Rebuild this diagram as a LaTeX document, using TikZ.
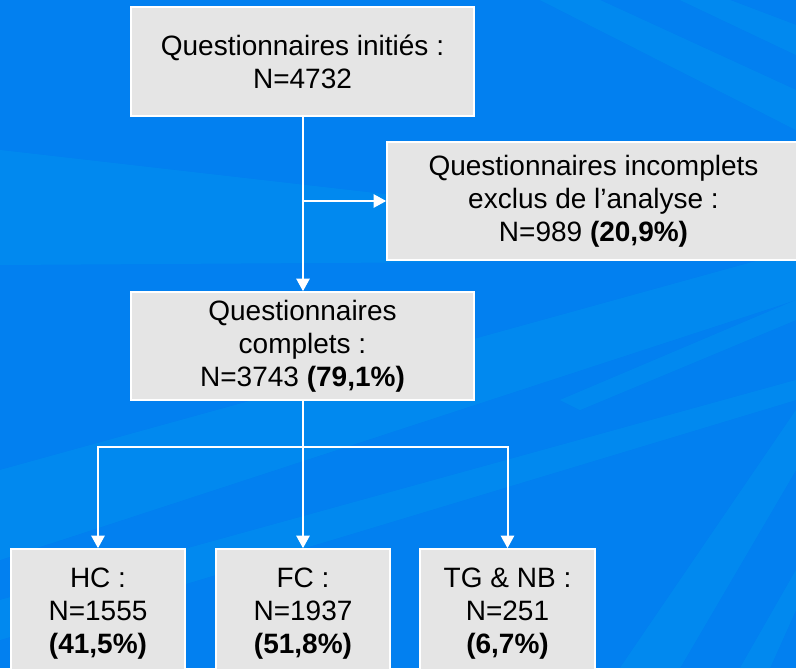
\documentclass[tikz,border=0pt]{standalone}
\usepackage{fontspec}
\setmainfont{Liberation Sans}
\usetikzlibrary{arrows.meta}
\definecolor{bgblue}{RGB}{2,128,240}
\definecolor{rayblue}{RGB}{0,150,238}
\definecolor{boxgray}{RGB}{229,229,229}
\tikzset{
  box/.style={draw=white, line width=1.2pt, fill=boxgray, align=center, inner sep=0pt,
    font=\fontsize{21}{24.75}\selectfont, text=black},
  link/.style={draw=white, line width=1.5pt, -{Triangle[width=10pt,length=9.5pt]}},
  plain/.style={draw=white, line width=1.5pt},
  ray/.style={fill=rayblue, draw=none, opacity=0.45}
}
\begin{document}
\begin{tikzpicture}[x=0.75pt,y=-0.75pt]
\fill[bgblue] (0,0) rectangle (796,668);
\useasboundingbox (0,0) rectangle (796,668);
\begin{scope}
\clip (0,0) rectangle (796,668);
% soft light bands
\fill[ray] (0,150) -- (480,205) -- (480,262) -- (0,265) -- cycle;
\fill[ray] (0,470) -- (796,250) -- (796,300) -- (0,560) -- cycle;
\fill[ray] (0,600) -- (796,380) -- (796,400) -- (0,640) -- cycle;
\fill[ray] (540,0) -- (600,0) -- (796,90) -- (796,130) -- cycle;
\fill[ray] (680,0) -- (730,0) -- (796,25) -- (796,55) -- cycle;
\fill[ray] (620,668) -- (680,668) -- (796,470) -- (796,410) -- cycle;
\fill[ray] (740,668) -- (770,668) -- (796,610) -- (796,570) -- cycle;
\fill[ray] (560,400) -- (796,300) -- (796,320) -- (580,410) -- cycle;

% nodes
\node[box, minimum width=343*0.75pt, minimum height=109*0.75pt] (init) at (302.5,61.5)
  {Questionnaires initiés :\\N=4732};
\node[box, minimum width=413*0.75pt, minimum height=118*0.75pt] (excl) at (593.5,201)
  {Questionnaires incomplets\\exclus de l’analyse :\\N=989 \textbf{(20,9\%)}};
\node[box, minimum width=343*0.75pt, minimum height=108*0.75pt] (compl) at (302.5,346)
  {Questionnaires\\complets :\\N=3743 \textbf{(79,1\%)}};
\node[box, minimum width=174*0.75pt, minimum height=130*0.75pt] (hc) at (98,614)
  {HC :\\N=1555\\\textbf{(41,5\%)}};
\node[box, minimum width=174*0.75pt, minimum height=130*0.75pt] (fc) at (303,614)
  {FC :\\N=1937\\\textbf{(51,8\%)}};
\node[box, minimum width=175*0.75pt, minimum height=130*0.75pt] (tg) at (507.5,614)
  {TG \& NB :\\N=251\\\textbf{(6,7\%)}};

\coordinate (split1) at (303,201);
\coordinate (split2) at (303,447);

% connectors
\draw[link] (init.south -| split1) -- (compl.north -| split1);
\draw[link] (split1) -- (excl.west);
\draw[plain] (compl.south -| split2) -- (split2);
\draw[link] (split2) -| (hc.north);
\draw[link] (split2) -- (fc.north);
\draw[link] (split2) -| (tg.north);
\end{scope}
\end{tikzpicture}
\end{document}
